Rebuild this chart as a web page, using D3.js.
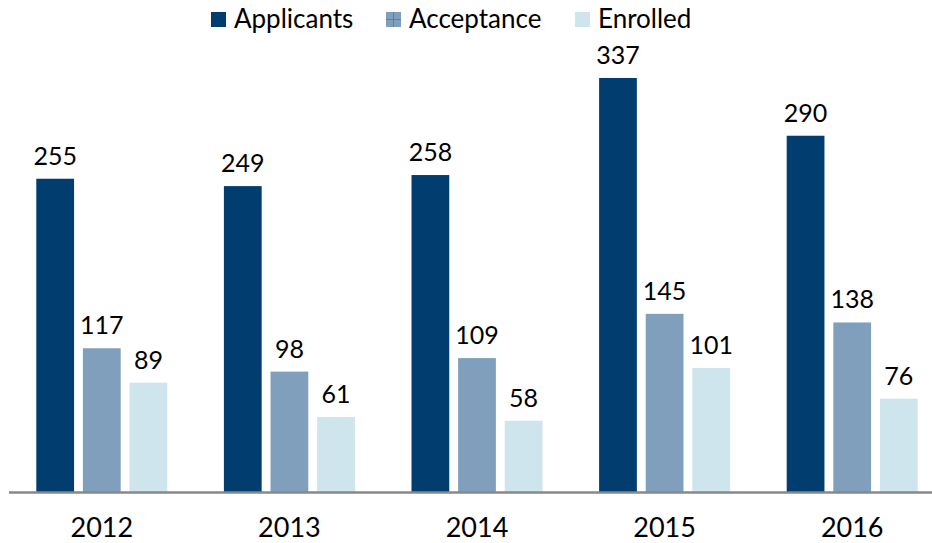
<!DOCTYPE html>
<html>
<head>
<meta charset="utf-8">
<script src="https://cdn.jsdelivr.net/npm/d3@7"></script>
<style>
  body { margin: 0; background: #fff; }
  text { font-family: Lato, "Open Sans", sans-serif; }
</style>
</head>
<body>
<div id="chart"></div>
<script>
const years = ["2012", "2013", "2014", "2015", "2016"];
const applicants = [255, 249, 258, 337, 290];
const acceptance = [117, 98, 109, 145, 138];
const enrolled = [89, 61, 58, 101, 76];
const seriesNames = ["Applicants", "Acceptance", "Enrolled"];
const colors = ["#023d6f", "#7f9fbc", "#cfe5ed"];

const w = 932, h = 543;
const svg = d3.select("#chart").append("svg").attr("width", w).attr("height", h);

const data = years.map((y, i) => ({ year: y, values: [applicants[i], acceptance[i], enrolled[i]] }));

const x = d3.scaleBand().domain(years).range([8, 946]).paddingInner(0).paddingOuter(0);
const xs = d3.scaleBand().domain(seriesNames).range([-65.5, 65.5]).paddingInner(0.19).paddingOuter(0);
const y = d3.scaleLinear().domain([0, 337]).range([492, 78]);

const groups = svg.selectAll("g.year")
  .data(data)
  .join("g")
  .attr("class", "year")
  .attr("transform", d => `translate(${x(d.year) + x.bandwidth() / 2},0)`);

groups.selectAll("rect")
  .data(d => d.values.map((v, i) => ({ name: seriesNames[i], v, i })))
  .join("rect")
  .attr("x", d => xs(d.name))
  .attr("y", d => y(d.v))
  .attr("width", xs.bandwidth())
  .attr("height", d => y(0) - y(d.v))
  .attr("fill", d => colors[d.i]);

groups.selectAll("text.val")
  .data(d => d.values.map((v, i) => ({ name: seriesNames[i], v, i })))
  .join("text")
  .attr("class", "val")
  .attr("x", d => xs(d.name) + xs.bandwidth() / 2)
  .attr("y", d => y(d.v) - 14)
  .attr("text-anchor", "middle")
  .attr("font-size", 25)
  .attr("fill", "#000")
  .text(d => d.v);

// axis line
svg.append("line")
  .attr("x1", 9).attr("x2", w)
  .attr("y1", 492.5).attr("y2", 492.5)
  .attr("stroke", "#888").attr("stroke-width", 2.5);

const xAxis = svg.append("g")
  .attr("transform", "translate(0,492)")
  .call(d3.axisBottom(x).tickSize(0).tickPadding(26));
xAxis.select(".domain").remove();
xAxis.selectAll("text")
  .attr("font-size", 27)
  .attr("fill", "#000")
  .style("font-family", "Lato, 'Open Sans', sans-serif");

// legend
const legendX = [211, 386, 575];
const legend = svg.selectAll("g.legend")
  .data(seriesNames)
  .join("g")
  .attr("class", "legend")
  .attr("transform", (d, i) => `translate(${legendX[i]},12)`);
legend.append("rect")
  .attr("width", 15).attr("height", 15)
  .attr("fill", (d, i) => colors[i]);
legend.filter((d, i) => i === 1).append("path")
  .attr("d", "M7.5,0V15M0,7.5H15")
  .attr("stroke", "#5d7fa0").attr("stroke-width", 1);
legend.append("text")
  .attr("x", 23).attr("y", 16)
  .attr("font-size", 26)
  .attr("fill", "#000")
  .text(d => d);
</script>
</body>
</html>
